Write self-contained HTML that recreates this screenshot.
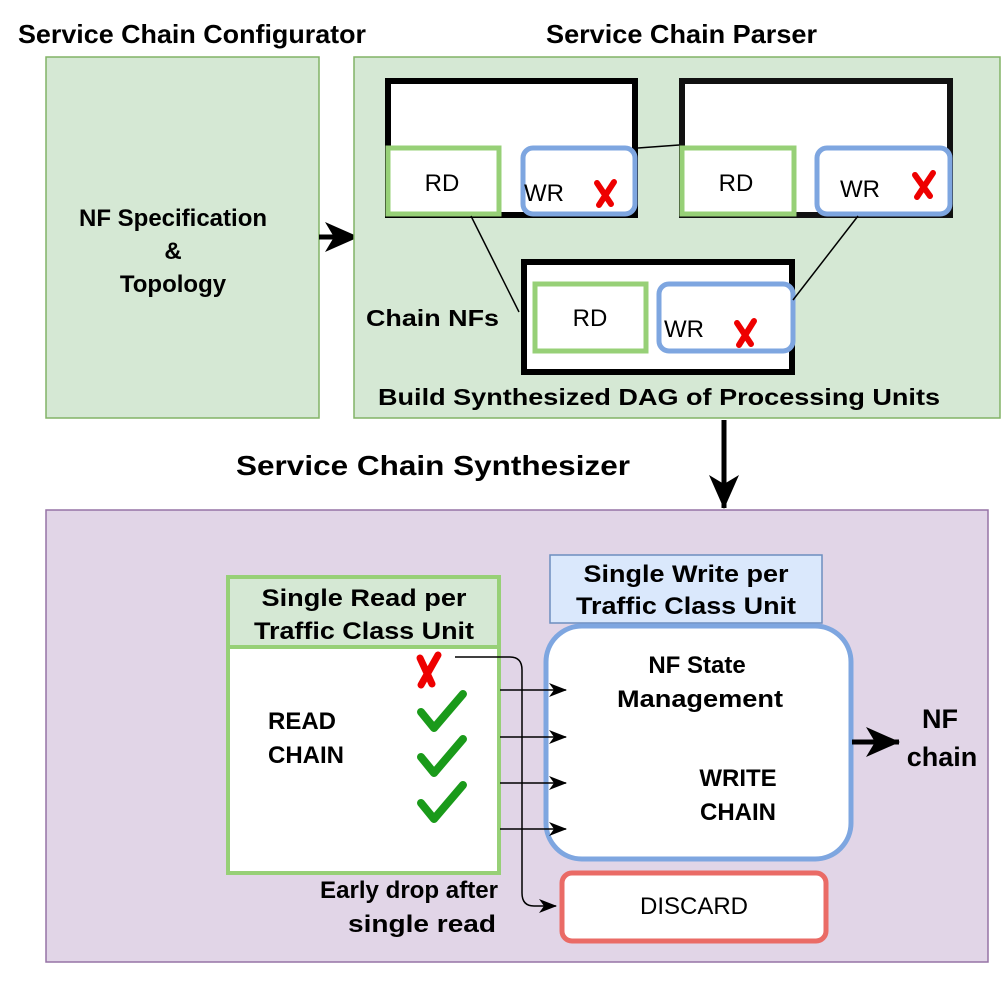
<!DOCTYPE html>
<html><head><meta charset="utf-8"><style>html,body{margin:0;padding:0;background:#fff}svg{display:block}text{font-family:"Liberation Sans",sans-serif}</style></head><body>
<svg width="1006" height="986" viewBox="0 0 1006 986" xmlns="http://www.w3.org/2000/svg">
<defs>
<marker id="ahs" markerWidth="18" markerHeight="14" refX="17" refY="7" orient="auto" markerUnits="userSpaceOnUse"><path d="M0,0 L18,7 L0,14 L5,7 Z" fill="#000"/></marker>
<marker id="ahb" markerWidth="34" markerHeight="30" refX="33" refY="15" orient="auto" markerUnits="userSpaceOnUse"><path d="M0,0 L34,15 L0,30 L9,15 Z" fill="#000"/></marker>
</defs>
<g font-weight="bold" fill="#000">
<text x="18" y="43" font-size="26" textLength="348" lengthAdjust="spacingAndGlyphs">Service Chain Configurator</text>
<text x="546" y="43" font-size="26" textLength="271" lengthAdjust="spacingAndGlyphs">Service Chain Parser</text>
<text x="236" y="475" font-size="28" textLength="394" lengthAdjust="spacingAndGlyphs">Service Chain Synthesizer</text>
</g>
<rect x="46" y="57" width="273" height="361" fill="#d5e8d4" stroke="#82b366" stroke-width="1.5"/>
<g font-weight="bold" font-size="24" text-anchor="middle">
<text x="173" y="226">NF Specification</text>
<text x="173" y="259">&amp;</text>
<text x="173" y="292">Topology</text>
</g>
<line x1="319" y1="237" x2="358" y2="237" stroke="#000" stroke-width="5" marker-end="url(#ahb)"/>
<rect x="354" y="57" width="646" height="361" fill="#d5e8d4" stroke="#82b366" stroke-width="1.5"/>
<rect x="388" y="81" width="247" height="134" fill="#fff" stroke="#000" stroke-width="6"/>
<rect x="682" y="81" width="268" height="134" fill="#fff" stroke="#111" stroke-width="6"/>
<line x1="638" y1="148" x2="679" y2="145" stroke="#000" stroke-width="1.5"/>
<rect x="388" y="148" width="111" height="66" fill="#fff" stroke="#97d077" stroke-width="5"/>
<rect x="523" y="148" width="112" height="66" rx="10" fill="#fff" stroke="#7ea6e0" stroke-width="5"/>
<rect x="682" y="148" width="112" height="66" fill="#fff" stroke="#97d077" stroke-width="5"/>
<rect x="817" y="148" width="133" height="66" rx="10" fill="#fff" stroke="#7ea6e0" stroke-width="5"/>
<rect x="524" y="262" width="268" height="110" fill="#fff" stroke="#000" stroke-width="6"/>
<rect x="535" y="284" width="111" height="67" fill="#fff" stroke="#97d077" stroke-width="5"/>
<rect x="659" y="284" width="134" height="67" rx="10" fill="#fff" stroke="#7ea6e0" stroke-width="5"/>
<line x1="471" y1="216" x2="519" y2="312" stroke="#000" stroke-width="1.5"/>
<line x1="858" y1="216" x2="793" y2="300" stroke="#000" stroke-width="1.5"/>
<g font-size="24">
<text x="442" y="191" text-anchor="middle">RD</text>
<text x="736" y="191" text-anchor="middle">RD</text>
<text x="590" y="326" text-anchor="middle">RD</text>
<text x="524" y="201">WR</text>
<text x="840" y="197">WR</text>
<text x="664" y="337">WR</text>
</g>
<g fill="none" stroke="#e00" stroke-width="6" stroke-linecap="round">
<path d="M597 183 L611 204 M614 182 L599 205"/>
<path d="M915 175 L930 196 M933 173 L917 197"/>
<path d="M737 323 L751 344 M754 321 L739 345"/>
</g>
<g font-weight="bold" font-size="23">
<text x="366" y="326" textLength="133" lengthAdjust="spacingAndGlyphs">Chain NFs</text>
<text x="659" y="405" text-anchor="middle" textLength="562" lengthAdjust="spacingAndGlyphs">Build Synthesized DAG of Processing Units</text>
</g>
<line x1="724" y1="420" x2="724" y2="508" stroke="#000" stroke-width="5" marker-end="url(#ahb)"/>
<rect x="46" y="510" width="942" height="452" fill="#e1d5e7" stroke="#9673a6" stroke-width="1.5"/>
<rect x="228" y="647" width="271" height="226" fill="#fff" stroke="#97d077" stroke-width="4"/>
<rect x="228" y="577" width="271" height="70" fill="#d5e8d4" stroke="#97d077" stroke-width="4"/>
<rect x="550" y="555" width="272" height="68" fill="#dae8fc" stroke="#6c8ebf" stroke-width="1.5"/>
<rect x="546" y="626" width="305" height="233" rx="36" fill="#fff" stroke="#7ea6e0" stroke-width="5"/>
<rect x="562" y="873" width="264" height="68" rx="10" fill="#fff" stroke="#ea6b66" stroke-width="5"/>
<g font-weight="bold" font-size="24" text-anchor="middle">
<text x="364" y="606" textLength="205" lengthAdjust="spacingAndGlyphs">Single Read per</text>
<text x="364" y="639" textLength="220" lengthAdjust="spacingAndGlyphs">Traffic Class Unit</text>
<text x="686" y="582" textLength="205" lengthAdjust="spacingAndGlyphs">Single Write per</text>
<text x="686" y="614" textLength="220" lengthAdjust="spacingAndGlyphs">Traffic Class Unit</text>
<text x="697" y="673">NF State</text>
<text x="700" y="707" textLength="166" lengthAdjust="spacingAndGlyphs">Management</text>
<text x="738" y="786">WRITE</text>
<text x="738" y="820">CHAIN</text>
</g>
<g font-weight="bold" font-size="24">
<text x="268" y="729">READ</text>
<text x="268" y="763">CHAIN</text>
</g>
<text x="694" y="914" font-size="24" text-anchor="middle">DISCARD</text>
<g font-weight="bold" font-size="24" text-anchor="middle">
<text x="409" y="898" textLength="178" lengthAdjust="spacingAndGlyphs">Early drop after</text>
<text x="422" y="932" textLength="148" lengthAdjust="spacingAndGlyphs">single read</text>
</g>
<g stroke="#000" stroke-width="1.5">
<line x1="500" y1="690" x2="566" y2="690" marker-end="url(#ahs)"/>
<line x1="500" y1="737" x2="566" y2="737" marker-end="url(#ahs)"/>
<line x1="500" y1="783" x2="566" y2="783" marker-end="url(#ahs)"/>
<line x1="500" y1="829" x2="566" y2="829" marker-end="url(#ahs)"/>
<path d="M455 657 L510 657 Q522 657 522 670 L522 893 Q522 906 534 906 L556 906" fill="none" marker-end="url(#ahs)"/>
</g>
<path d="M420 658 L432 684 M438 655 L421 685" stroke="#e00" stroke-width="7" stroke-linecap="round" fill="none"/>
<g fill="none" stroke="#1a9a1a" stroke-width="8" stroke-linecap="round" stroke-linejoin="round">
<path d="M421 712 L434 728 L463 694"/>
<path d="M421 757 L434 773 L463 739"/>
<path d="M421 803 L434 819 L463 785"/>
</g>
<line x1="852" y1="742" x2="899" y2="742" stroke="#000" stroke-width="5" marker-end="url(#ahb)"/>
<g font-weight="bold" font-size="27" text-anchor="middle">
<text x="940" y="728">NF</text>
<text x="942" y="766">chain</text>
</g>
</svg>
</body></html>
